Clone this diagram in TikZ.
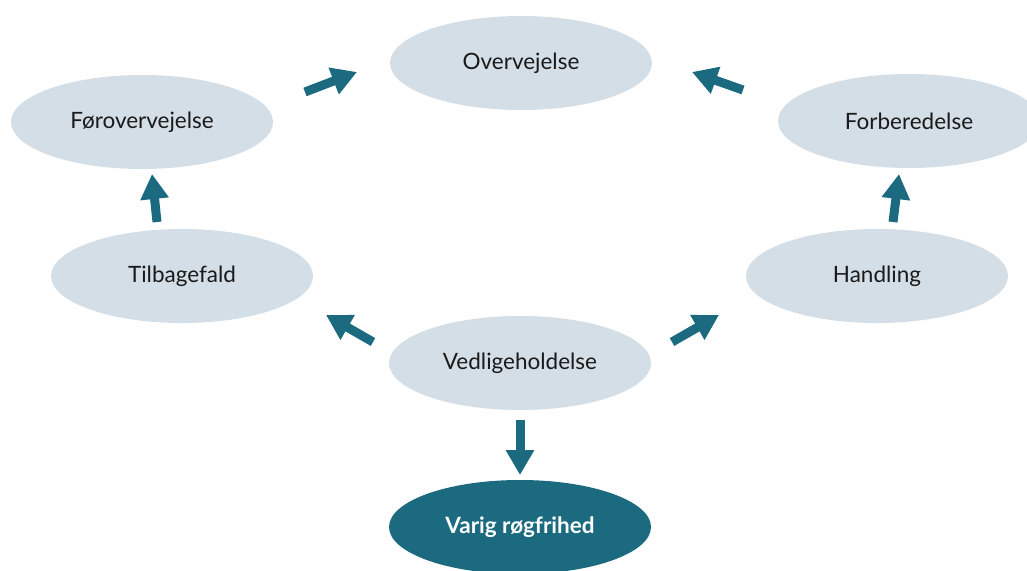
\documentclass[tikz,border=0pt]{standalone}
\usepackage{fontspec}
\setmainfont{Lato}
\usetikzlibrary{arrows.meta,shapes.geometric}
\definecolor{stagefill}{HTML}{D3DEE6}
\definecolor{tealdark}{HTML}{1B6A80}
\definecolor{txt}{HTML}{1A1A1A}
\tikzset{
  stage/.style={ellipse, fill=stagefill, minimum width=262pt, minimum height=94pt, inner sep=0pt, text=txt, font=\fontsize{22.5}{26}\selectfont},
  goal/.style={ellipse, fill=tealdark, minimum width=262pt, minimum height=94pt, inner sep=0pt, text=white, font=\bfseries\fontsize{22.5}{26}\selectfont},
  flow/.style={draw=tealdark, line width=9pt, -{Triangle[length=25pt,width=27pt]}}
}
\begin{document}
\begin{tikzpicture}[x=1pt,y=-1pt]
\useasboundingbox (0,0) rectangle (1027,570);
\node[stage] (over) at (521,63) {Overvejelse};
\node[stage] (foer) at (142,122) {Førovervejelse};
\node[stage] (forb) at (909,121) {Forberedelse};
\node[stage] (tilb) at (182,276) {Tilbagefald};
\node[stage] (hand) at (877,276) {Handling};
\node[stage] (vedl) at (520,363) {Vedligeholdelse};
\node[goal] (varig) at (520,527) {Varig røgfrihed};
\coordinate (a1s) at (305,92); \coordinate (a1e) at (357,72);
\coordinate (a2s) at (743,90); \coordinate (a2e) at (692,72);
\coordinate (a3s) at (157,222); \coordinate (a3e) at (152,174);
\coordinate (a4s) at (893,222); \coordinate (a4e) at (899,174);
\coordinate (a5s) at (373,342); \coordinate (a5e) at (326,315);
\coordinate (a6s) at (672,342); \coordinate (a6e) at (719,315);
\coordinate (a7s) at (520,420); \coordinate (a7e) at (520,475);
\foreach \i in {1,...,7} \draw[flow] (a\i s) -- (a\i e);
\end{tikzpicture}
\end{document}
